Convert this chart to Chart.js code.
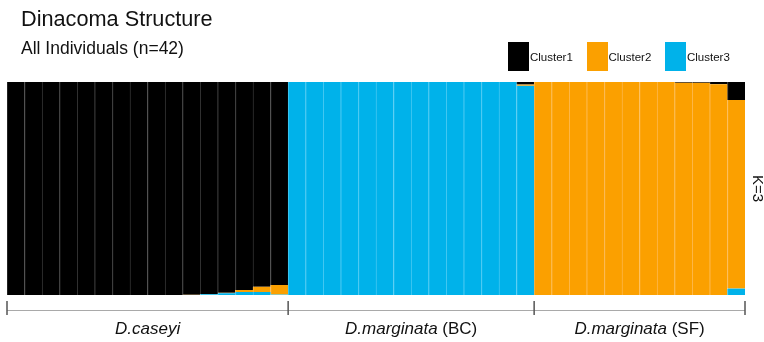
<!DOCTYPE html>
<html lang="en">
<head>
    <meta charset="UTF-8">
    <title>Dinacoma Structure</title>
    <script src="https://cdn.jsdelivr.net/npm/chart.js"></script>
    <style>
        html, body {
            margin: 0;
            padding: 0;
            background: #fff;
        }
        body {
            font-family: "Liberation Sans", Arial, sans-serif;
            color: #111;
        }
        .wrap {
            position: relative;
            width: 764px;
            height: 342px;
            overflow: hidden;
        }
        .chart-box {
            position: absolute;
            left: 0;
            top: 0;
            width: 764px;
            height: 342px;
        }
        .title {
            position: absolute;
            left: 21px;
            top: 8px;
            font-size: 21.7px;
            line-height: 22px;
            white-space: nowrap;
        }
        .subtitle {
            position: absolute;
            left: 21px;
            top: 38.5px;
            font-size: 17.5px;
            line-height: 18px;
            white-space: nowrap;
        }
        .legend {
            position: absolute;
            left: 508px;
            top: 42px;
            display: flex;
        }
        .legend .item {
            width: 78.5px;
            display: flex;
            align-items: center;
        }
        .legend .swatch {
            width: 21px;
            height: 29px;
        }
        .legend span {
            font-size: 11.5px;
            margin-left: 1px;
        }
    </style>
</head>
<body>
    <div class="wrap">
        <div class="chart-box"><canvas id="structureChart"></canvas></div>
        <div class="title">Dinacoma Structure</div>
        <div class="subtitle">All Individuals (n=42)</div>
        <div class="legend" id="legend"></div>
    </div>

    <script>
        // population groups, left to right
        const groupNames = ['D.caseyi', 'D.marginata', 'D.marginata'];
        const groupSuffix = ['', ' (BC)', ' (SF)'];
        const groupSizes = [16, 14, 12];

        const individuals = [
            'C01', 'C02', 'C03', 'C04', 'C05', 'C06', 'C07', 'C08',
            'C09', 'C10', 'C11', 'C12', 'C13', 'C14', 'C15', 'C16',
            'BC01', 'BC02', 'BC03', 'BC04', 'BC05', 'BC06', 'BC07',
            'BC08', 'BC09', 'BC10', 'BC11', 'BC12', 'BC13', 'BC14',
            'SF01', 'SF02', 'SF03', 'SF04', 'SF05', 'SF06',
            'SF07', 'SF08', 'SF09', 'SF10', 'SF11', 'SF12'
        ];

        const clusterNames = ['Cluster1', 'Cluster2', 'Cluster3'];
        const clusterColors = ['#000000', '#fba000', '#00b2ea'];
        const clusterLines = ['#333333', '#fdb74a', '#45c8f2'];

        // membership coefficients (Q) per individual
        const cluster1 = [
            1, 1, 1, 1, 1, 1, 1, 1, 1, 1, 0.999, 0.995, 0.990, 0.977, 0.961, 0.953,
            0, 0, 0, 0, 0, 0, 0, 0, 0, 0, 0, 0, 0, 0.012,
            0, 0, 0, 0, 0, 0, 0, 0, 0.003, 0.004, 0.010, 0.085
        ];
        const cluster2 = [
            0, 0, 0, 0, 0, 0, 0, 0, 0, 0, 0.001, 0.001, 0.002, 0.009, 0.025, 0.045,
            0, 0, 0, 0, 0, 0, 0, 0, 0, 0, 0, 0, 0, 0.006,
            1, 1, 1, 1, 1, 1, 1, 1, 0.997, 0.996, 0.990, 0.885
        ];
        const cluster3 = [
            0, 0, 0, 0, 0, 0, 0, 0, 0, 0, 0, 0.004, 0.008, 0.014, 0.014, 0.002,
            1, 1, 1, 1, 1, 1, 1, 1, 1, 1, 1, 1, 1, 0.982,
            0, 0, 0, 0, 0, 0, 0, 0, 0, 0, 0, 0.030
        ];

        // legend
        const legendEl = document.getElementById('legend');
        clusterNames.forEach((name, i) => {
            const item = document.createElement('div');
            item.className = 'item';
            item.innerHTML = '<div class="swatch" style="background:' + clusterColors[i] + '"></div><span>' + name + '</span>';
            legendEl.appendChild(item);
        });

        const groupBracket = {
            id: 'groupBracket',
            afterDraw(chart) {
                const { ctx, chartArea, scales: { x } } = chart;
                const half = (x.getPixelForValue(1) - x.getPixelForValue(0)) / 2;
                const edges = [x.getPixelForValue(0) - half];
                let end = 0;
                groupSizes.forEach(n => {
                    end += n;
                    edges.push(x.getPixelForValue(end - 1) + half);
                });

                ctx.save();
                // bracket line
                ctx.strokeStyle = '#a9a9a9';
                ctx.lineWidth = 1;
                ctx.beginPath();
                ctx.moveTo(edges[0], chartArea.bottom + 15.5);
                ctx.lineTo(edges[edges.length - 1], chartArea.bottom + 15.5);
                ctx.stroke();
                ctx.strokeStyle = '#555';
                ctx.lineWidth = 1.5;
                edges.forEach(px => {
                    ctx.beginPath();
                    ctx.moveTo(px, chartArea.bottom + 6);
                    ctx.lineTo(px, chartArea.bottom + 20);
                    ctx.stroke();
                });

                // group labels: species in italics
                ctx.fillStyle = '#111';
                ctx.textBaseline = 'alphabetic';
                ctx.textAlign = 'left';
                const italic = 'italic 17px "Liberation Sans", Arial, sans-serif';
                const normal = '17px "Liberation Sans", Arial, sans-serif';
                groupNames.forEach((name, i) => {
                    const mid = (edges[i] + edges[i + 1]) / 2;
                    ctx.font = italic;
                    const w1 = ctx.measureText(name).width;
                    ctx.font = normal;
                    const w2 = ctx.measureText(groupSuffix[i]).width;
                    const left = mid - (w1 + w2) / 2;
                    ctx.font = italic;
                    ctx.fillText(name, left, chartArea.bottom + 39);
                    ctx.font = normal;
                    ctx.fillText(groupSuffix[i], left + w1, chartArea.bottom + 39);
                });

                // K label on the right
                ctx.translate(chartArea.right + 12.5, (chartArea.top + chartArea.bottom) / 2);
                ctx.rotate(Math.PI / 2);
                ctx.textAlign = 'center';
                ctx.textBaseline = 'middle';
                ctx.font = '15px "Liberation Sans", Arial, sans-serif';
                ctx.fillText('K=3', 0, 0);
                ctx.restore();
            }
        };

        const ctx = document.getElementById('structureChart').getContext('2d');
        // first dataset sits at the bottom of the stack
        const series = [cluster3, cluster2, cluster1];
        const order = [2, 1, 0];

        new Chart(ctx, {
            type: 'bar',
            data: {
                labels: individuals,
                datasets: series.map((data, i) => ({
                    label: clusterNames[order[i]],
                    data: data,
                    backgroundColor: clusterColors[order[i]],
                    borderColor: clusterLines[order[i]],
                    borderWidth: { left: 1, top: 0, right: 0, bottom: 0 },
                    borderSkipped: false,
                    barPercentage: 1,
                    categoryPercentage: 1
                }))
            },
            options: {
                responsive: true,
                maintainAspectRatio: false,
                animation: false,
                layout: { padding: { left: 7, right: 19, top: 82, bottom: 47 } },
                plugins: {
                    legend: { display: false }
                },
                scales: {
                    x: { stacked: true, display: false },
                    y: { stacked: true, display: false, min: 0, max: 1 }
                }
            },
            plugins: [groupBracket]
        });
    </script>
</body>
</html>
